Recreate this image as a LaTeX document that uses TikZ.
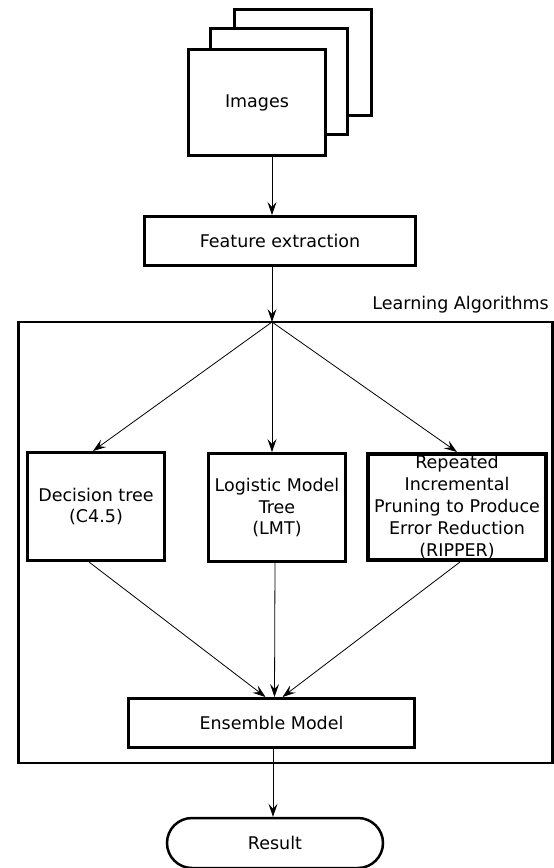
\documentclass[tikz,border=0pt]{standalone}
\usepackage{fontspec}
\setmainfont{DejaVu Sans}
\usetikzlibrary{arrows.meta,positioning,shapes.misc}

\begin{document}
\begin{tikzpicture}[x=1pt,y=-1pt,
    font=\fontsize{17.5}{21.8}\selectfont,
    box/.style={draw,line width=3pt,fill=white,align=center,inner sep=0pt},
    page/.style={box,minimum width=137pt,minimum height=106pt},
    algo/.style={box,minimum width=137pt,minimum height=108pt},
    flow/.style={-{Stealth[length=13pt,width=9pt,inset=5pt]},line width=0.8pt}]
  \useasboundingbox (0,0) rectangle (554,868);
  % stack of images
  \node[page] (img3) at (302.5,62.5) {};
  \node[page] (img2) at (279,81.5) {};
  \node[page] (img1) at (257,102.5) {Images};
  \node[box,minimum width=271pt,minimum height=49pt] (feat) at (280,241)
       {Feature extraction};
  % learning block
  \node[draw,line width=2.5pt,minimum width=534pt,minimum height=441pt] (learn)
       at (285.5,542.5) {};
  \node[anchor=south east,inner sep=0pt] (lbl) at (549,313) {Learning Algorithms};
  \coordinate (fan) at (272,322);
  \node[algo] (dt) at (96,506.5) {Decision tree\\(C4.5)};
  \node[algo] (lmt) at (277,507.5) {Logistic Model\\Tree\\(LMT)};
  \node[box,line width=4pt,minimum width=178pt,minimum height=106pt] (rip)
       at (457,507) {Repeated\\Incremental\\Pruning to Produce\\Error Reduction\\(RIPPER)};
  \node[box,minimum width=286pt,minimum height=49pt] (ens) at (271.5,723)
       {Ensemble Model};
  \node[draw,line width=2.5pt,rounded rectangle,minimum width=216pt,
        minimum height=50pt,inner sep=0pt] (res) at (275,843) {Result};
  % connectors
  \draw[flow] (img1.south -| fan) -- (feat.north -| fan);
  \draw[flow] (feat.south -| fan) -- (fan);
  \draw[flow] (fan) -- ([xshift=-3pt]dt.north);
  \draw[flow] (fan) -- (lmt.north -| fan);
  \draw[flow] (fan) -- (rip.north);
  \draw[flow] ([xshift=-7pt]dt.south) -- ([xshift=-6pt]ens.north);
  \draw[flow] ([xshift=-2pt]lmt.south) -- ([xshift=3pt]ens.north);
  \draw[flow] ([xshift=3pt]rip.south) -- ([xshift=11pt]ens.north);
  \draw[flow] ([xshift=1.5pt]ens.south) -- ([xshift=1.5pt]ens.south |- res.north);
\end{tikzpicture}
\end{document}
